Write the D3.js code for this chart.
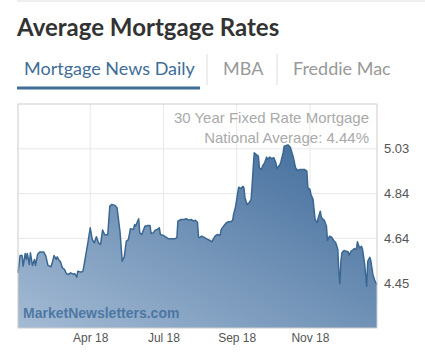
<!DOCTYPE html>
<html>
<head>
<meta charset="utf-8">
<script src="https://cdn.jsdelivr.net/npm/d3@7"></script>
<style>
  body { margin: 0; background: #fff; }
</style>
</head>
<body>
<div id="chart"></div>
<script>
// tabs shown above the chart
var tabs = ["Mortgage News Daily", "MBA", "Freddie Mac"]

// y ticks (rates, %) and x tick dates
var yTicks = [4.45, 4.644, 4.838, 5.032]
var xTicks = ["2018-04-26", "2018-07-06", "2018-09-15", "2018-11-25"]

// daily 30 year fixed rate
var dates = [
  "2018-02-15","2018-02-17","2018-02-19","2018-02-20","2018-02-22","2018-02-23","2018-02-24","2018-02-26","2018-02-27","2018-03-01",
  "2018-03-03","2018-03-04","2018-03-06","2018-03-08","2018-03-12","2018-03-14","2018-03-16","2018-03-19","2018-03-20","2018-03-22",
  "2018-03-24","2018-03-25","2018-03-27","2018-03-28","2018-03-30","2018-04-01","2018-04-03","2018-04-05","2018-04-07","2018-04-10",
  "2018-04-11","2018-04-13","2018-04-14","2018-04-17","2018-04-19","2018-04-21","2018-04-24","2018-04-26","2018-04-28","2018-04-30",
  "2018-05-02","2018-05-04","2018-05-06","2018-05-08","2018-05-10","2018-05-13","2018-05-15","2018-05-17","2018-05-20","2018-05-22",
  "2018-05-25","2018-05-27","2018-05-29","2018-05-31","2018-06-02","2018-06-04","2018-06-07","2018-06-08","2018-06-09","2018-06-11",
  "2018-06-12","2018-06-13","2018-06-15","2018-06-18","2018-06-21","2018-06-23","2018-06-24","2018-06-26","2018-06-28","2018-06-30",
  "2018-07-02","2018-07-03","2018-07-06","2018-07-08","2018-07-11","2018-07-13","2018-07-17","2018-07-19","2018-07-20","2018-07-23",
  "2018-07-26","2018-07-28","2018-07-31","2018-08-02","2018-08-04","2018-08-06","2018-08-08","2018-08-09","2018-08-10","2018-08-12",
  "2018-08-15","2018-08-18","2018-08-20","2018-08-22","2018-08-23","2018-08-25","2018-08-27","2018-08-30","2018-08-31","2018-09-03",
  "2018-09-05","2018-09-07","2018-09-09","2018-09-11","2018-09-12","2018-09-14","2018-09-16","2018-09-17","2018-09-19","2018-09-21",
  "2018-09-22","2018-09-23","2018-09-25","2018-09-27","2018-09-29","2018-09-30","2018-10-01","2018-10-02","2018-10-04","2018-10-06",
  "2018-10-07","2018-10-09","2018-10-10","2018-10-12","2018-10-14","2018-10-15","2018-10-17","2018-10-19","2018-10-21","2018-10-23",
  "2018-10-24","2018-10-27","2018-10-28","2018-10-30","2018-10-31","2018-11-03","2018-11-04","2018-11-06","2018-11-09","2018-11-11",
  "2018-11-13","2018-11-15","2018-11-17","2018-11-20","2018-11-22","2018-11-23","2018-11-25","2018-11-26","2018-11-28","2018-11-30",
  "2018-12-02","2018-12-03","2018-12-05","2018-12-06","2018-12-08","2018-12-09","2018-12-11","2018-12-12","2018-12-14","2018-12-16",
  "2018-12-18","2018-12-20","2018-12-22","2018-12-23","2018-12-24","2018-12-25","2018-12-26","2018-12-28","2018-12-30","2019-01-01",
  "2019-01-02","2019-01-04","2019-01-06","2019-01-07","2019-01-09","2019-01-10","2019-01-12","2019-01-14","2019-01-15","2019-01-17",
  "2019-01-19","2019-01-20","2019-01-22","2019-01-23","2019-01-25","2019-01-27","2019-01-29"
]
var rates = [
  4.495,4.570,4.570,4.524,4.579,4.553,4.579,4.531,4.582,4.527,
  4.553,4.527,4.575,4.585,4.585,4.567,4.527,4.521,4.535,4.570,
  4.553,4.564,4.548,4.545,4.517,4.510,4.491,4.488,4.495,4.488,
  4.491,4.476,4.502,4.498,4.502,4.553,4.632,4.690,4.639,4.625,
  4.651,4.625,4.618,4.680,4.660,4.660,4.784,4.791,4.787,4.777,
  4.668,4.545,4.564,4.632,4.639,4.686,4.683,4.704,4.697,4.719,
  4.729,4.668,4.661,4.697,4.700,4.700,4.665,4.668,4.680,4.683,
  4.690,4.661,4.657,4.651,4.642,4.642,4.642,4.647,4.719,4.726,
  4.726,4.729,4.723,4.726,4.719,4.723,4.714,4.650,4.647,4.654,
  4.647,4.639,4.635,4.629,4.639,4.654,4.661,4.658,4.683,4.701,
  4.712,4.716,4.716,4.722,4.748,4.784,4.842,4.866,4.860,4.870,
  4.863,4.820,4.791,4.798,4.813,4.877,4.950,5.015,5.007,5.000,
  4.950,4.942,4.957,4.971,4.996,4.986,4.996,4.990,4.993,4.971,
  4.947,4.964,4.978,5.015,5.043,5.048,5.048,5.039,4.993,4.950,
  4.938,4.942,4.942,4.942,4.935,4.863,4.856,4.834,4.813,4.726,
  4.712,4.733,4.762,4.736,4.726,4.722,4.697,4.635,4.654,4.649,
  4.635,4.625,4.596,4.502,4.448,4.545,4.582,4.592,4.589,4.586,
  4.571,4.589,4.596,4.600,4.596,4.629,4.603,4.610,4.596,4.534,
  4.437,4.545,4.562,4.548,4.488,4.459,4.444
]

var width = 425, height = 352
var plot = {left: 18, right: 377, top: 104, bottom: 328}

var parse = d3.timeParse("%Y-%m-%d")
var data = dates.map(function(d, i) { return {date: parse(d), rate: rates[i]} })

var svg = d3.select("#chart")
  .append("svg")
    .attr("width", width)
    .attr("height", height)

// thin rule at the very top
svg.append("line")
  .attr("x1", 17).attr("x2", width)
  .attr("y1", 1).attr("y2", 1)
  .style("stroke", "#ddd")

svg.append("text")
  .attr("x", 17).attr("y", 36)
  .style("font-family", "Lato, 'Open Sans', sans-serif")
  .style("font-weight", "bold")
  .style("font-size", "24px")
  .style("fill", "#333")
  .text("Average Mortgage Rates")

// tabs
var tabX = [24, 223, 293]
svg.selectAll("tabs")
  .data(tabs)
  .enter()
  .append("text")
    .attr("x", function(d, i) { return tabX[i] })
    .attr("y", 75)
    .style("font-family", "Lato, 'Open Sans', sans-serif")
    .style("font-size", "18px")
    .style("fill", function(d, i) { return i == 0 ? "#3e6d98" : "#999" })
    .text(function(d) { return d })

svg.selectAll("seps")
  .data([207, 277])
  .enter()
  .append("line")
    .attr("x1", function(d) { return d }).attr("x2", function(d) { return d })
    .attr("y1", 54).attr("y2", 85)
    .style("stroke", "#ddd")

svg.append("rect")
  .attr("x", 17).attr("y", 86.5)
  .attr("width", 183).attr("height", 3)
  .style("fill", "#3e6d98")

// scales
var x = d3.scaleTime()
  .domain(d3.extent(data, function(d) { return d.date }))
  .range([plot.left, plot.right])

var y = d3.scaleLinear()
  .domain([4.256, 5.226])
  .range([plot.bottom, plot.top])

// grid
svg.append("g")
  .selectAll("line")
  .data(yTicks)
  .enter()
  .append("line")
    .attr("x1", plot.left).attr("x2", plot.right)
    .attr("y1", function(d) { return y(d) }).attr("y2", function(d) { return y(d) })
    .style("stroke", "#e8e8e8")

svg.append("g")
  .selectAll("line")
  .data(xTicks)
  .enter()
  .append("line")
    .attr("x1", function(d) { return x(parse(d)) }).attr("x2", function(d) { return x(parse(d)) })
    .attr("y1", plot.top).attr("y2", plot.bottom)
    .style("stroke", "#e8e8e8")

// gradient for the area
var defs = svg.append("defs")
var grad = defs.append("linearGradient")
  .attr("id", "fillGrad")
  .attr("x1", "0").attr("y1", "1")
  .attr("x2", "1").attr("y2", "0")
grad.append("stop").attr("offset", "0%").attr("stop-color", "#a4bbd4")
grad.append("stop").attr("offset", "100%").attr("stop-color", "#3d6999")

var area = d3.area()
  .x(function(d) { return x(d.date) })
  .y0(plot.bottom)
  .y1(function(d) { return y(d.rate) })

var line = d3.line()
  .x(function(d) { return x(d.date) })
  .y(function(d) { return y(d.rate) })

svg.append("path")
  .datum(data)
  .attr("d", area)
  .style("fill", "url(#fillGrad)")

svg.append("path")
  .datum(data)
  .attr("d", line)
  .style("fill", "none")
  .style("stroke", "#3a6792")
  .style("stroke-width", 1.5)
  .style("stroke-linejoin", "round")

// border of the plot
svg.append("rect")
  .attr("x", plot.left).attr("y", plot.top)
  .attr("width", plot.right - plot.left).attr("height", plot.bottom - plot.top)
  .style("fill", "none")
  .style("stroke", "#ccc")

// axes, drawn with d3 axis and then stripped of lines
var yAxis = svg.append("g")
  .attr("transform", "translate(" + plot.right + ",0)")
  .call(d3.axisRight(y).tickValues(yTicks).tickFormat(d3.format(".2f")).tickSize(0).tickPadding(7))
yAxis.select(".domain").remove()
yAxis.selectAll("text")
  .style("font-family", "'Liberation Sans', Arial, sans-serif")
  .style("font-size", "13px")
  .style("fill", "#555")

var xAxis = svg.append("g")
  .attr("transform", "translate(0," + plot.bottom + ")")
  .call(d3.axisBottom(x).tickValues(xTicks.map(parse)).tickFormat(d3.timeFormat("%b %y")).tickSize(0).tickPadding(5))
xAxis.select(".domain").remove()
xAxis.selectAll("text")
  .style("font-family", "'Liberation Sans', Arial, sans-serif")
  .style("font-size", "12px")
  .style("fill", "#555")

// chart labels
svg.append("text")
  .attr("x", 369).attr("y", 123)
  .attr("text-anchor", "end")
  .style("font-family", "'Liberation Sans', Arial, sans-serif")
  .style("font-size", "15px")
  .style("fill", "#aaa")
  .text("30 Year Fixed Rate Mortgage")

svg.append("text")
  .attr("x", 369).attr("y", 143)
  .attr("text-anchor", "end")
  .style("font-family", "'Liberation Sans', Arial, sans-serif")
  .style("font-size", "15px")
  .style("fill", "#aaa")
  .text("National Average: 4.44%")

svg.append("text")
  .attr("x", 23).attr("y", 318)
  .style("font-family", "'Liberation Sans', Arial, sans-serif")
  .style("font-weight", "bold")
  .style("font-size", "14px")
  .style("fill", "#3f6d9c")
  .style("fill-opacity", 0.85)
  .text("MarketNewsletters.com")
</script>
</body>
</html>
